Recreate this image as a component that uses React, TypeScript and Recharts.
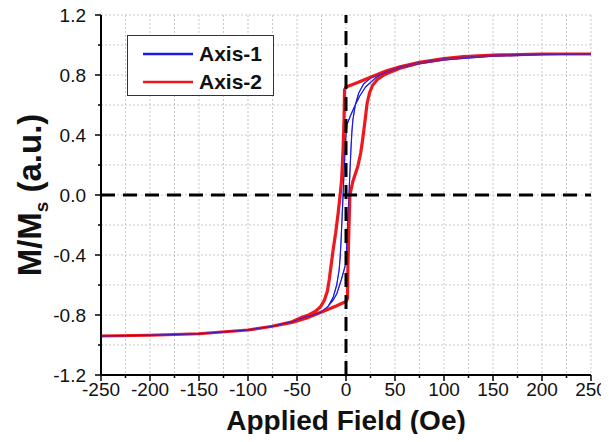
import React from "react";
import { LineChart, Line, XAxis, YAxis, CartesianGrid, ReferenceLine } from "recharts";

// ---- data (Applied Field in Oe, M/Ms) ----
const redDescH = [250, 200, 150, 120, 100, 75, 55, 40, 25, 10, 0, -1.5, -2, -3, -4.5, -6, -8, -10.5, -13, -15, -17, -19, -22, -26, -31, -38, -45, -55, -75, -100, -150, -200, -250];
const redDescM = [0.94, 0.94, 0.933, 0.922, 0.91, 0.885, 0.855, 0.825, 0.785, 0.745, 0.72, 0.7, 0.5, 0.3, 0.1, 0.0, -0.12, -0.25, -0.36, -0.46, -0.56, -0.64, -0.7, -0.745, -0.775, -0.8, -0.815, -0.845, -0.875, -0.9, -0.925, -0.935, -0.94];
const redAscH = [-250, -200, -150, -100, -75, -55, -40, -25, -10, 0, 1.5, 2, 3, 4, 7, 12, 15, 17, 19.5, 21.5, 24, 27, 32, 40, 55, 75, 100, 120, 150, 200, 250];
const redAscM = [-0.94, -0.935, -0.925, -0.9, -0.875, -0.85, -0.82, -0.78, -0.74, -0.71, -0.69, -0.47, -0.22, 0.0, 0.09, 0.19, 0.28, 0.37, 0.5, 0.61, 0.68, 0.73, 0.77, 0.805, 0.845, 0.88, 0.905, 0.92, 0.932, 0.94, 0.94];
const blueDescH = [250, 200, 150, 100, 75, 55, 40, 30, 20, 14, 8, 4, 1, 0, -1, -2, -3, -4, -5, -6, -7, -9.5, -13, -18, -25, -33, -42, -55, -75, -100, -150, -200, -250];
const blueDescM = [0.94, 0.94, 0.933, 0.91, 0.885, 0.855, 0.82, 0.78, 0.72, 0.66, 0.58, 0.52, 0.47, 0.4, 0.3, 0.15, 0.0, -0.15, -0.3, -0.42, -0.5, -0.6, -0.68, -0.74, -0.78, -0.8, -0.815, -0.845, -0.875, -0.9, -0.925, -0.935, -0.94];
const blueAscH = [-250, -200, -150, -100, -75, -55, -42, -33, -25, -18, -13, -9.5, -5, -2, 0, 1, 2, 3, 4, 5, 6, 7, 9.5, 13, 18, 25, 33, 42, 55, 75, 100, 150, 200, 250];
const blueAscM = [-0.94, -0.935, -0.925, -0.9, -0.875, -0.845, -0.815, -0.8, -0.78, -0.74, -0.7, -0.66, -0.57, -0.5, -0.45, -0.3, -0.15, 0.0, 0.15, 0.3, 0.42, 0.5, 0.6, 0.68, 0.74, 0.78, 0.8, 0.815, 0.845, 0.875, 0.9, 0.925, 0.935, 0.94];

const xTicks = [-250, -225, -200, -175, -150, -125, -100, -75, -50, -25, 0, 25, 50, 75, 100, 125, 150, 175, 200, 225, 250];
const yTicks = [-1.2, -1.0, -0.8, -0.6, -0.4, -0.2, 0.0, 0.2, 0.4, 0.6, 0.8, 1.0, 1.2];
const seriesNames = ["Axis-1", "Axis-2"];
const xTitle = "Applied Field (Oe)";

const toPts = (hs: number[], ms: number[]) => hs.map((h, i) => ({ h, m: ms[i] }));
const blueData = [...toPts(blueDescH, blueDescM), ...toPts(blueAscH, blueAscM)];
const redData = [...toPts(redDescH, redDescM), ...toPts(redAscH, redAscM)];

const FONT = "'Liberation Sans', Arial, sans-serif";
const RED = "#ec1a1f";
const BLUE = "#1a1ae6";

const isMajorX = (v: number) => Math.abs(Math.round(v)) % 50 === 0;
const isMajorY = (v: number) => Math.abs(Math.round(v * 10)) % 4 === 0;

const XTickBottom = (p: any) => {
  const { x, y, payload } = p;
  const major = isMajorX(payload.value);
  return (
    <g>
      <line x1={x} x2={x} y1={y} y2={y + (major ? 6 : 3)} stroke="#000" strokeWidth={1.5} />
      {major && (
        <text x={x} y={y + 21} textAnchor="middle" fontSize={19} fontFamily={FONT} fill="#111">
          {payload.value}
        </text>
      )}
    </g>
  );
};
const XTickTop = (p: any) => {
  const { x, y, payload } = p;
  const major = isMajorX(payload.value);
  return <line x1={x} x2={x} y1={y} y2={y + (major ? 6 : 4)} stroke="#000" strokeWidth={1.5} />;
};
const YTickLeft = (p: any) => {
  const { x, y, payload } = p;
  const major = isMajorY(payload.value);
  return (
    <g>
      <line x1={x} x2={x - (major ? 6 : 3)} y1={y} y2={y} stroke="#000" strokeWidth={1.5} />
      {major && (
        <text x={x - 15} y={y + 7} textAnchor="end" fontSize={19} fontFamily={FONT} fill="#111">
          {Number(payload.value).toFixed(1)}
        </text>
      )}
    </g>
  );
};
const YTickRight = (p: any) => {
  const { x, y, payload } = p;
  const major = isMajorY(payload.value);
  return <line x1={x} x2={x - (major ? 6 : 4)} y1={y} y2={y} stroke="#000" strokeWidth={1.5} />;
};

const LegendBox = () => (
  <div style={{ position: "absolute", left: 127, top: 35, width: 147, height: 61, border: "1.5px solid #333", background: "#fff", boxSizing: "border-box" }}>
    <svg width={144} height={58} style={{ display: "block" }}>
      <line x1={15} x2={65} y1={18} y2={18} stroke={BLUE} strokeWidth={2.5} />
      <text x={71} y={25} fontSize={21} fontWeight="bold" fontFamily={FONT} fill="#111">{seriesNames[0]}</text>
      <line x1={15} x2={65} y1={46} y2={46} stroke={RED} strokeWidth={2.5} />
      <text x={71} y={53} fontSize={21} fontWeight="bold" fontFamily={FONT} fill="#111">{seriesNames[1]}</text>
    </svg>
  </div>
);

const XTitle = (p: any) => {
  const { viewBox } = p;
  const cx = viewBox.x + viewBox.width / 2;
  return (
    <text x={cx} y={viewBox.y + 55} textAnchor="middle" fontSize={28} fontWeight="bold" fontFamily={FONT} fill="#111">
      {xTitle}
    </text>
  );
};
const YTitle = (p: any) => {
  const { viewBox } = p;
  const cy = viewBox.y + viewBox.height / 2;
  const tx = 41;
  return (
    <text x={tx} y={cy} transform={`rotate(-90 ${tx} ${cy})`} textAnchor="middle" fontSize={33} fontWeight="bold" fontFamily={FONT} fill="#111">
      M/M<tspan fontSize={19} dy={7}>s</tspan><tspan dy={-7}> (a.u.)</tspan>
    </text>
  );
};

export default function App() {
  return (
    <div style={{ position: "relative", margin: -8, width: 609, height: 442 }}>
      <LineChart width={609} height={442} margin={{ top: 15, right: 18, left: 0, bottom: 0 }}>
        <CartesianGrid stroke="#c8c8c8" strokeDasharray="2 2" />
        <XAxis dataKey="h" type="number" domain={[-250, 250]} ticks={xTicks} interval={0} allowDataOverflow
          height={67} tickSize={0} tickMargin={0} tickLine={false} axisLine={{ stroke: "#000", strokeWidth: 2 }}
          tick={<XTickBottom />} label={<XTitle />} />
        <XAxis xAxisId="top" orientation="top" type="number" domain={[-250, 250]} ticks={xTicks} interval={0}
          height={0} tickSize={0} tickMargin={0} tickLine={false} axisLine={{ stroke: "#000", strokeWidth: 2 }}
          tick={<XTickTop />} />
        <YAxis type="number" domain={[-1.2, 1.2]} ticks={yTicks} interval={0} allowDataOverflow width={101}
          tickSize={0} tickMargin={0} tickLine={false} axisLine={{ stroke: "#000", strokeWidth: 2 }}
          tick={<YTickLeft />} label={<YTitle />} />
        <YAxis yAxisId="right" orientation="right" type="number" domain={[-1.2, 1.2]} ticks={yTicks} interval={0}
          width={0} tickSize={0} tickMargin={0} tickLine={false} axisLine={{ stroke: "#000", strokeWidth: 2 }}
          tick={<YTickRight />} />
        <Line data={blueData} dataKey="m" name={seriesNames[0]} stroke={BLUE} strokeWidth={1.2} dot={false} isAnimationActive={false} />
        <Line data={redData} dataKey="m" name={seriesNames[1]} stroke={RED} strokeWidth={3.2} dot={false} isAnimationActive={false} />
        <Line data={blueData} dataKey="m" name="blue-top" stroke={BLUE} strokeWidth={1} strokeOpacity={0.6} dot={false} isAnimationActive={false} legendType="none" />
        <ReferenceLine x={0} stroke="#000" strokeWidth={3} strokeDasharray="14 8" />
        <ReferenceLine y={0} stroke="#000" strokeWidth={3} strokeDasharray="14 8" />
      </LineChart>
      <LegendBox />
    </div>
  );
}
